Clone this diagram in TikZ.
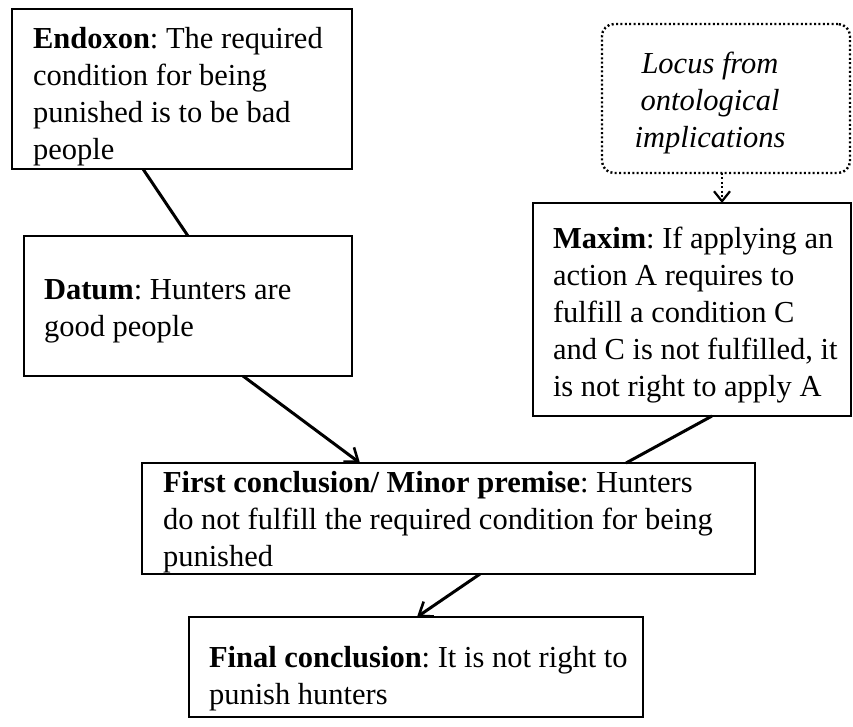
\documentclass[tikz,border=0pt]{standalone}
\usepackage{fontspec}
\setmainfont{Liberation Serif}
\usetikzlibrary{arrows.meta}

\tikzset{
  box/.style={draw, line width=1.8pt, rectangle, inner sep=0pt, outer sep=0pt, anchor=north west},
  locusbox/.style={draw, line width=2.4pt, dash pattern=on 2pt off 2.4pt, rounded corners=12pt,
                   rectangle, inner sep=0pt, outer sep=0pt, anchor=north west},
  txt/.style={inner sep=0pt, outer sep=0pt, anchor=north west, align=left,
              font=\fontsize{30.5}{37}\selectfont\frenchspacing},
  link/.style={line width=3pt},
  flow/.style={line width=3pt, -{Straight Barb[length=12pt, width=18pt, line width=2.6pt]}},
  dotflow/.style={line width=2.4pt, dash pattern=on 2pt off 2.4pt,
                  -{Straight Barb[length=10pt, width=16pt, line width=2.2pt]}}
}

\begin{document}
\begin{tikzpicture}[x=1pt, y=-1pt]
  \useasboundingbox (0,0) rectangle (853,726);

  % boxes
  \node[box, minimum width=340pt, minimum height=160pt] (endoxon) at (12,9) {};
  \node[box, minimum width=328pt, minimum height=140pt] (datum) at (24,236) {};
  \node[locusbox, minimum width=248pt, minimum height=149pt] (locus) at (602,24) {};
  \node[box, minimum width=318pt, minimum height=213pt] (maxim) at (533,203) {};
  \node[box, minimum width=613pt, minimum height=111pt] (first) at (142,463) {};
  \node[box, minimum width=454pt, minimum height=100pt] (final) at (189,617) {};

  % texts
  \node[txt] (endoxonText) at (33,22.1)
    {\strut\textbf{Endoxon}: The required\\condition for being\\punished is to be bad\\people};
  \node[txt] (datumText) at (44,273.1)
    {\strut\textbf{Datum}: Hunters are\\good people};
  \node[txt, anchor=north, align=center] (locusText) at (710,47.1)
    {\strut\itshape Locus from\\\itshape ontological\\\itshape implications};
  \node[txt] (maximText) at (553,222.1)
    {\strut\textbf{Maxim}: If applying an\\action A requires to\\fulfill a condition C\\and C is not fulfilled, it\\is not right to apply A};
  \node[txt] (firstText) at (163,466.1)
    {\strut\textbf{First conclusion/ Minor premise}: Hunters\\do not fulfill the required condition for being\\punished};
  \node[txt] (finalText) at (209,641.1)
    {\strut\textbf{Final conclusion}: It is not right to\\punish hunters};

  % connectors
  \draw[link] ([xshift=131pt]endoxon.south west) -- ([xshift=164pt]datum.north west);
  \draw[flow] ([xshift=219pt]datum.south west) -- ([xshift=218pt]first.north west);
  \draw[link] ([xshift=179pt]maxim.south west) -- ([xshift=484pt]first.north west);
  \draw[dotflow] ([xshift=120pt]locus.south west) -- ([xshift=189pt]maxim.north west);
  \draw[flow] ([xshift=338pt]first.south west) -- ([xshift=228pt]final.north west);
\end{tikzpicture}
\end{document}
